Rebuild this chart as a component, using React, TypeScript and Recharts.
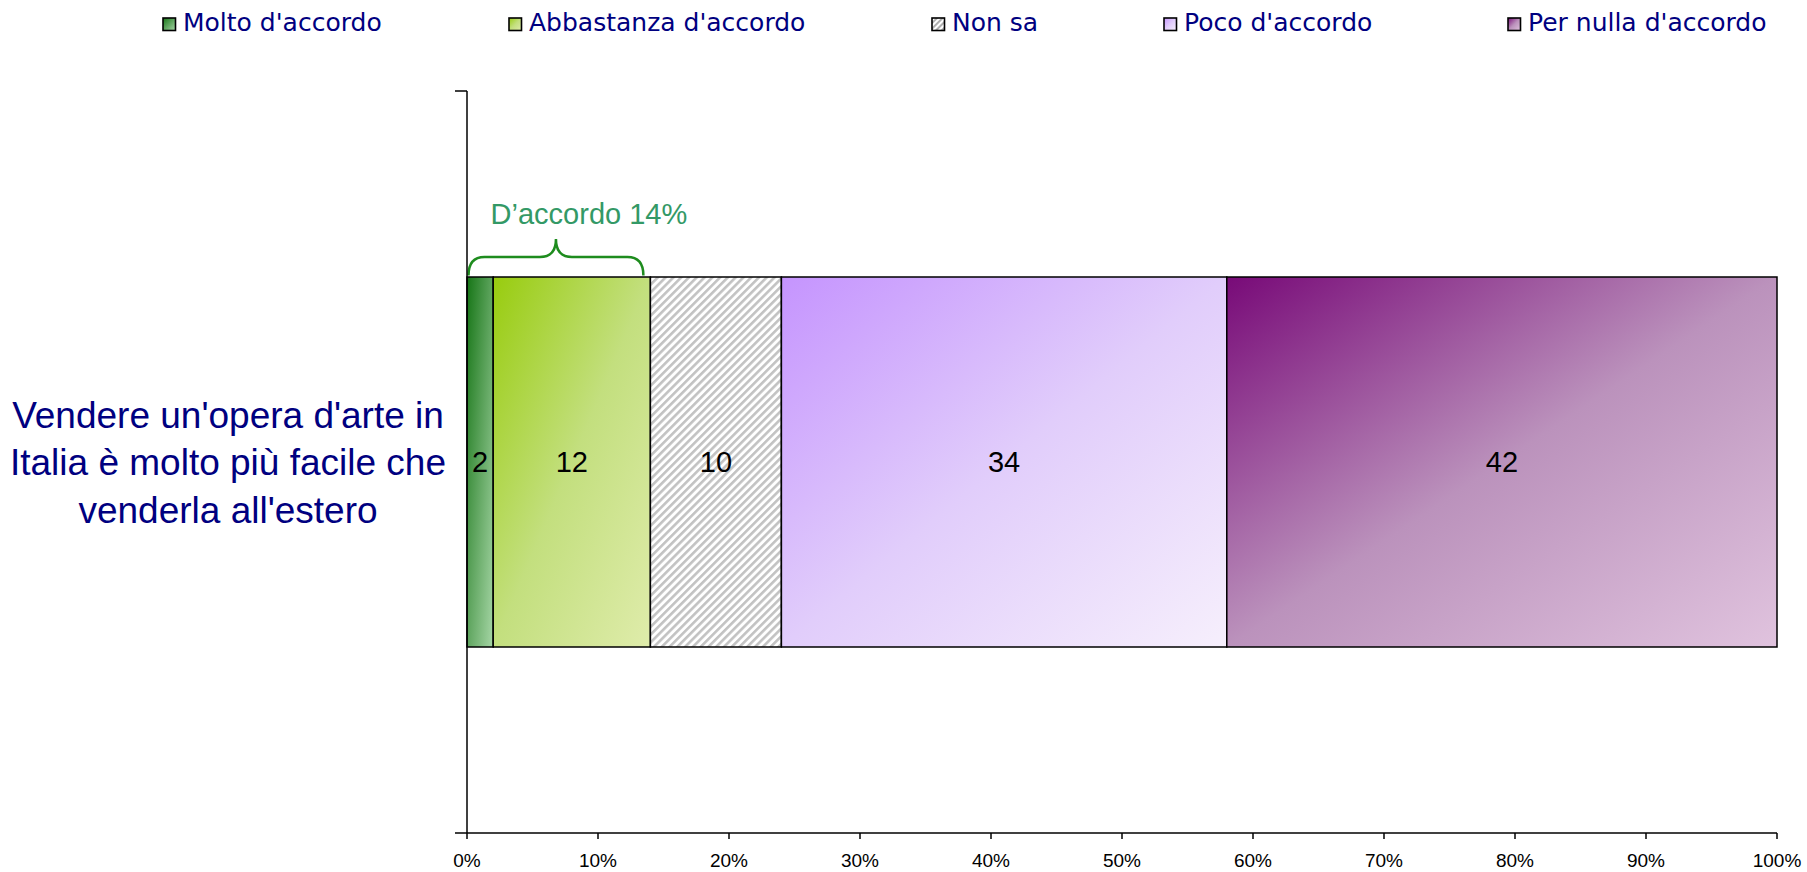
import React from 'react';
import { BarChart, Bar, XAxis, YAxis, LabelList, Legend, ReferenceArea } from 'recharts';

// ---- data ----
const categories = ["Vendere un'opera d'arte in Italia è molto più facile che venderla all'estero"];
const categoryLines = [["Vendere un'opera d'arte in", "Italia è molto più facile che", "venderla all'estero"]];
const seriesNames = ["Molto d'accordo", "Abbastanza d'accordo", "Non sa", "Poco d'accordo", "Per nulla d'accordo"];
const seriesKeys = ['molto', 'abbastanza', 'nonsa', 'poco', 'pernulla'];
const moltoValues = [2];
const abbastanzaValues = [12];
const nonSaValues = [10];
const pocoValues = [34];
const perNullaValues = [42];
const xTicks = [0, 10, 20, 30, 40, 50, 60, 70, 80, 90, 100];
const bracketLabel = 'D\u2019accordo 14%';
const bracketRange = [0, 14];

const data = categories.map((name, i) => ({
  name,
  molto: moltoValues[i],
  abbastanza: abbastanzaValues[i],
  nonsa: nonSaValues[i],
  poco: pocoValues[i],
  pernulla: perNullaValues[i],
}));

// ---- styles ----
const W = 1807;
const H = 872;
const BAR_SIZE = 370;
const fills = ['url(#gMolto)', 'url(#gAbb)', 'url(#pNonSa)', 'url(#gPoco)', 'url(#gPer)'];
const legendFills = ['url(#LgMolto)', 'url(#LgAbb)', 'url(#LpNonSa)', 'url(#LgPoco)', 'url(#LgPer)'];
const legendX = [162, 508, 931, 1163, 1507];
const NAVY = '#000080';

const gradientStops: Record<string, string[]> = {
  Molto: ['#167516', '#5fa55f', '#a6d6a6'],
  Abb: ['#98cc0e', '#c3df7e', '#dfecab'],
  Poco: ['#c594fe', '#e1cdfb', '#f6effc'],
  Per: ['#780a78', '#bb92bc', '#e0c3de'],
};

const makeGradients = (prefix: string) =>
  Object.keys(gradientStops).map((k) => (
    <linearGradient key={k} id={`${prefix}g${k}`} x1="0" y1="0" x2="1" y2="1">
      <stop offset="0%" stopColor={gradientStops[k][0]} />
      <stop offset="50%" stopColor={gradientStops[k][1]} />
      <stop offset="100%" stopColor={gradientStops[k][2]} />
    </linearGradient>
  ));

const Defs = () => (
  <defs>
    {makeGradients('')}
    <pattern id="pNonSa" patternUnits="userSpaceOnUse" width="5.5" height="5.5" patternTransform="rotate(45)">
      <rect x="0" y="0" width="5.5" height="5.5" fill="#ffffff" />
      <rect x="0" y="0" width="2.6" height="5.5" fill="#c2c2c2" />
    </pattern>
  </defs>
);

const LegendDefs = () => (
  <svg width={0} height={0} style={{ position: 'absolute' }}>
    <defs>
      {makeGradients('L')}
      <pattern id="LpNonSa" patternUnits="userSpaceOnUse" width="4" height="4" patternTransform="rotate(45)">
        <rect x="0" y="0" width="4" height="4" fill="#ffffff" />
        <rect x="0" y="0" width="2" height="4" fill="#b0b0b0" />
      </pattern>
    </defs>
  </svg>
);

const LegendContent = () => (
  <div style={{ position: 'relative', width: W, height: 46, fontFamily: '"DejaVu Sans", Verdana, sans-serif' }}>
    {seriesNames.map((n, i) => (
      <div key={n} style={{ position: 'absolute', left: legendX[i], top: 0, height: 46, display: 'flex', alignItems: 'center' }}>
        <svg width={15} height={15} style={{ display: 'block', marginTop: 3 }}>
          <rect x={1} y={1} width={12.5} height={12.5} fill={legendFills[i]} stroke="#000" strokeWidth={1.6} />
        </svg>
        <span style={{ marginLeft: 6, fontSize: 25, color: NAVY, whiteSpace: 'nowrap', lineHeight: '46px' }}>{n}</span>
      </div>
    ))}
  </div>
);

const CategoryTick = (props: any) => {
  const { y, payload, index } = props;
  const lines = categoryLines[index] || [String(payload.value)];
  const lh = 47.8;
  const startY = y - ((lines.length - 1) * lh) / 2;
  return (
    <text x={228} y={startY} textAnchor="middle" fontSize={37} fill={NAVY} fontFamily='"Liberation Sans", Arial, sans-serif'>
      {lines.map((l: string, i: number) => (
        <tspan key={i} x={228} y={startY + i * lh} dy="0.36em">{l}</tspan>
      ))}
    </text>
  );
};

const BoundaryTicks = (props: any) => {
  const { x, y, height } = props;
  return (
    <g>
      <line x1={x - 12} y1={y} x2={x} y2={y} stroke="#000" strokeWidth={1.5} />
      <line x1={x - 12} y1={y + height} x2={x} y2={y + height} stroke="#000" strokeWidth={1.5} />
    </g>
  );
};

const Bracket = (props: any) => {
  const { x, y, width, height } = props;
  const barTop = y + height / 2 - BAR_SIZE / 2;
  const x0 = x + 1.5;
  const x1 = x + width - 7;
  const xm = (x0 + x1) / 2;
  const yb = barTop - 1.5;
  const yh = barTop - 20;
  const yp = barTop - 38;
  const r = 16;
  const d = `M ${x0} ${yb} Q ${x0} ${yh} ${x0 + r} ${yh} L ${xm - r} ${yh} Q ${xm} ${yh} ${xm} ${yp} Q ${xm} ${yh} ${xm + r} ${yh} L ${x1 - r} ${yh} Q ${x1} ${yh} ${x1} ${yb}`;
  return (
    <g>
      <path d={d} fill="none" stroke="#1e8c1e" strokeWidth={2.5} />
      <text x={xm + 33} y={barTop - 53} textAnchor="middle" fontSize={29} fill="#339966" fontFamily='"Liberation Sans", Arial, sans-serif'>
        {bracketLabel}
      </text>
    </g>
  );
};

export default function App() {
  return (
    <div style={{ position: 'absolute', left: 0, top: 0, width: W, height: H, background: '#fff' }}>
      <LegendDefs />
      <BarChart
        width={W}
        height={H}
        data={data}
        layout="vertical"
        margin={{ top: 45, right: 30, bottom: 0, left: 0 }}
        style={{ fontFamily: '"Liberation Sans", Arial, sans-serif' }}
      >
        <Defs />
        <Legend
          verticalAlign="top"
          align="left"
          content={() => <LegendContent />}
          wrapperStyle={{ top: 0, left: 0, width: W, height: 46 }}
        />
        <XAxis
          type="number"
          domain={[0, 100]}
          ticks={xTicks}
          tickFormatter={(v: number) => `${v}%`}
          height={39}
          tickSize={6}
          tickMargin={15}
          axisLine={{ stroke: '#000', strokeWidth: 1.5 }}
          tickLine={{ stroke: '#000', strokeWidth: 1.5 }}
          tick={{ fill: '#000', fontSize: 19 }}
          interval={0}
        />
        <YAxis
          type="category"
          dataKey="name"
          width={467}
          axisLine={{ stroke: '#000', strokeWidth: 1.5 }}
          tickLine={false}
          tick={<CategoryTick />}
        />
        {seriesKeys.map((k, i) => (
          <Bar key={k} dataKey={k} name={seriesNames[i]} stackId="a" fill={fills[i]} stroke="#000" strokeWidth={1.5} barSize={BAR_SIZE} isAnimationActive={false}>
            <LabelList dataKey={k} position="center" fill="#000" fontSize={29} />
          </Bar>
        ))}
        <ReferenceArea x1={0} x2={100} ifOverflow="visible" fill="none" stroke="none" shape={<BoundaryTicks />} />
        <ReferenceArea x1={bracketRange[0]} x2={bracketRange[1]} ifOverflow="visible" fill="none" stroke="none" shape={<Bracket />} />
      </BarChart>
    </div>
  );
}
